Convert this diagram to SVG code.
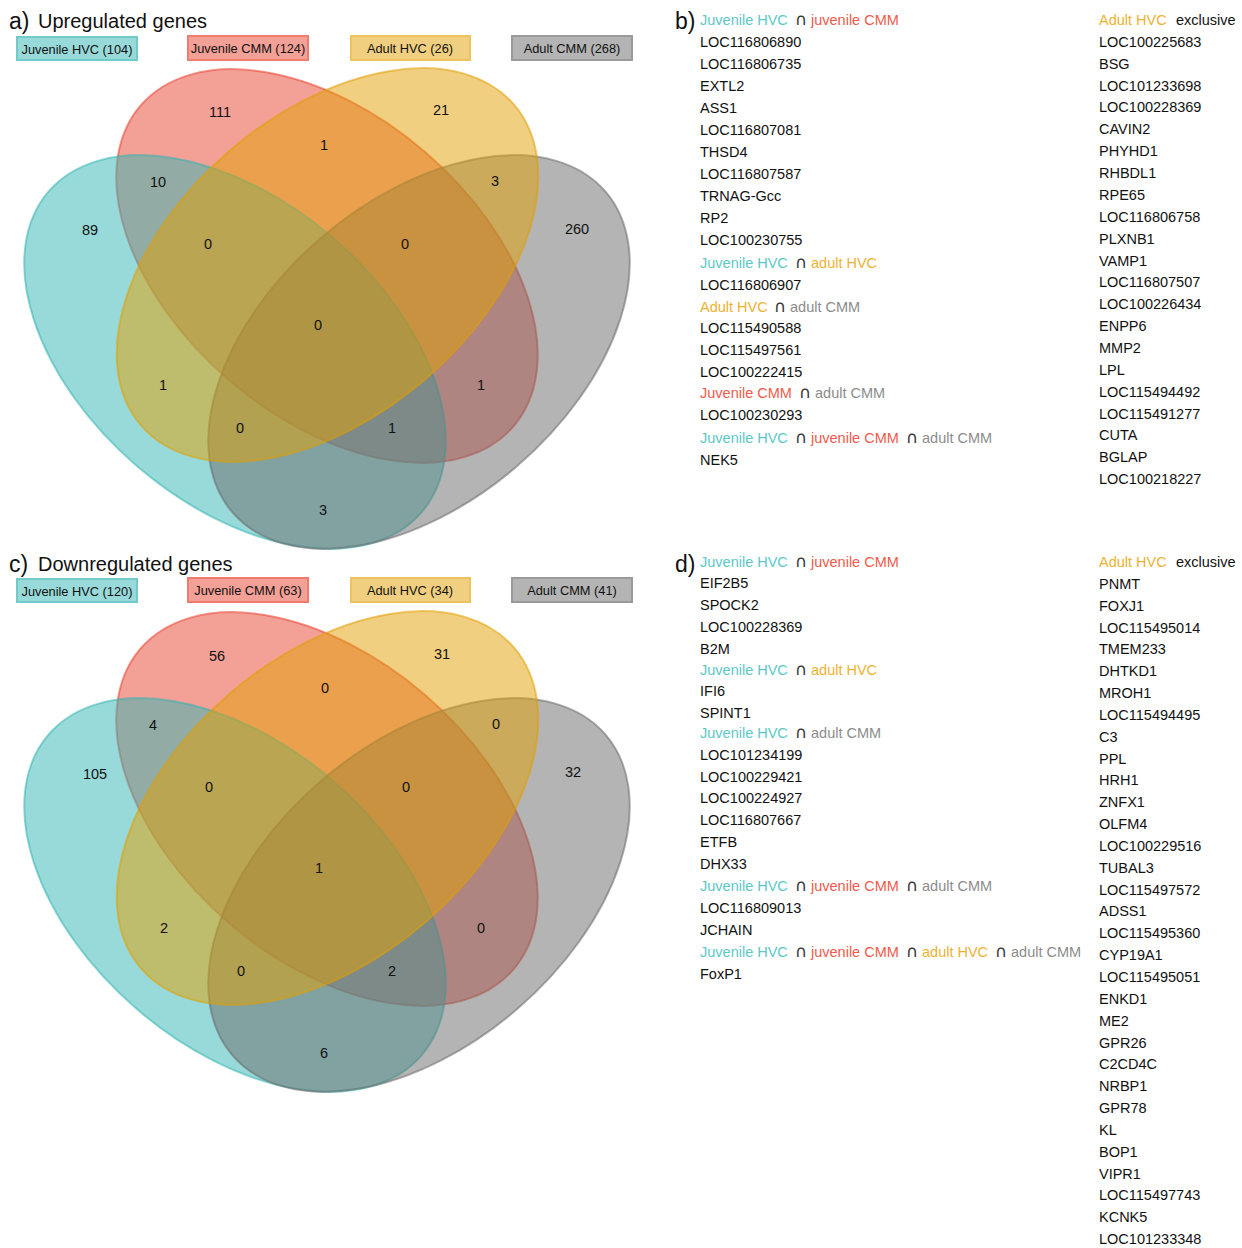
<svg xmlns="http://www.w3.org/2000/svg" width="1242" height="1248" viewBox="0 0 1242 1248">
<style>
text{font-family:"Liberation Sans",Arial,"DejaVu Sans",sans-serif;fill:#111}
.pl{font-size:23px}
.ttl{font-size:20px}
.lg{font-size:12.8px;text-anchor:middle}
.n{font-size:14.5px;text-anchor:middle}
.li{font-size:14.5px}
text.cap{fill:#333;font-family:"DejaVu Sans","Liberation Sans",sans-serif;font-size:16.5px}
.ct{fill:#5cc8c7}
.cr{fill:#f05a4b}
.cy{fill:#edb232}
.cg{fill:#8c8c8c}
.e{stroke-width:2;fill-opacity:.5;stroke-opacity:.55}
.teal{fill:#31b5b3;stroke:#31b5b3}
.red{fill:#e74130;stroke:#e74130}
.yel{fill:#e19f01;stroke:#e19f01}
.gry{fill:#696969;stroke:#696969}
.b{stroke-width:2}
.bt{fill:#98dad9;stroke:#72cbc9}
.br{fill:#f3a096;stroke:#f07b6d}
.by{fill:#f0cf80;stroke:#eec35e}
.bg{fill:#b4b4b4;stroke:#9a9a9a}
</style>

<!-- Panel a -->
<g id="panel-a-title">
<text class="pl" x="9" y="29">a)</text>
<text class="ttl" x="38" y="28">Upregulated genes</text>
</g>
<g id="legend-a">
<g id="legend-a-jhvc"><rect class="b bt" x="17" y="37" width="120" height="23"/><text class="lg" x="77" y="53.5">Juvenile HVC (104)</text></g>
<g id="legend-a-jcmm"><rect class="b br" x="188" y="36" width="120" height="24"/><text class="lg" x="248" y="53">Juvenile CMM (124)</text></g>
<g id="legend-a-ahvc"><rect class="b by" x="351" y="36" width="119" height="24"/><text class="lg" x="410" y="53">Adult HVC (26)</text></g>
<g id="legend-a-acmm"><rect class="b bg" x="512" y="36" width="120" height="24"/><text class="lg" x="572" y="53">Adult CMM (268)</text></g>
</g>
<g id="venn-a">
<g id="a-jcmm"><ellipse class="e red" rx="246" ry="150.5" transform="translate(327 266) rotate(40.7)"/></g>
<g id="a-jhvc"><ellipse class="e teal" rx="246" ry="150.5" transform="translate(235 352) rotate(40.7)"/></g>
<g id="a-acmm"><ellipse class="e gry" rx="246" ry="150.5" transform="translate(419 352) rotate(-40.7)"/></g>
<g id="a-ahvc"><ellipse class="e yel" rx="246" ry="150.5" transform="translate(327.5 265) rotate(-40.7)"/></g>
</g>
<g id="venn-a-counts">
<text class="n" x="220" y="117">111</text>
<text class="n" x="441" y="115">21</text>
<text class="n" x="324" y="150">1</text>
<text class="n" x="158" y="187">10</text>
<text class="n" x="495" y="186">3</text>
<text class="n" x="90" y="235">89</text>
<text class="n" x="577" y="234">260</text>
<text class="n" x="208" y="249">0</text>
<text class="n" x="405" y="249">0</text>
<text class="n" x="318" y="330">0</text>
<text class="n" x="163" y="390">1</text>
<text class="n" x="481" y="390">1</text>
<text class="n" x="240" y="433">0</text>
<text class="n" x="392" y="433">1</text>
<text class="n" x="323" y="515">3</text>
</g>

<!-- Panel c -->
<g id="panel-c-title">
<text class="pl" x="9" y="572">c)</text>
<text class="ttl" x="38" y="571">Downregulated genes</text>
</g>
<g id="legend-c">
<g id="legend-c-jhvc"><rect class="b bt" x="17" y="579" width="120" height="23"/><text class="lg" x="77" y="595.5">Juvenile HVC (120)</text></g>
<g id="legend-c-jcmm"><rect class="b br" x="188" y="578" width="120" height="24"/><text class="lg" x="248" y="595">Juvenile CMM (63)</text></g>
<g id="legend-c-ahvc"><rect class="b by" x="351" y="578" width="119" height="24"/><text class="lg" x="410" y="595">Adult HVC (34)</text></g>
<g id="legend-c-acmm"><rect class="b bg" x="512" y="578" width="120" height="24"/><text class="lg" x="572" y="595">Adult CMM (41)</text></g>
</g>
<g id="venn-c">
<g id="c-jcmm"><ellipse class="e red" rx="246" ry="150.5" transform="translate(327 809) rotate(40.7)"/></g>
<g id="c-jhvc"><ellipse class="e teal" rx="246" ry="150.5" transform="translate(235 895) rotate(40.7)"/></g>
<g id="c-acmm"><ellipse class="e gry" rx="246" ry="150.5" transform="translate(419 895) rotate(-40.7)"/></g>
<g id="c-ahvc"><ellipse class="e yel" rx="246" ry="150.5" transform="translate(327.5 808) rotate(-40.7)"/></g>
</g>
<g id="venn-c-counts">
<text class="n" x="217" y="661">56</text>
<text class="n" x="442" y="659">31</text>
<text class="n" x="325" y="693">0</text>
<text class="n" x="153" y="730">4</text>
<text class="n" x="496" y="729">0</text>
<text class="n" x="95" y="779">105</text>
<text class="n" x="573" y="777">32</text>
<text class="n" x="209" y="792">0</text>
<text class="n" x="406" y="792">0</text>
<text class="n" x="319" y="873">1</text>
<text class="n" x="164" y="933">2</text>
<text class="n" x="481" y="933">0</text>
<text class="n" x="241" y="976">0</text>
<text class="n" x="392" y="976">2</text>
<text class="n" x="324" y="1058">6</text>
</g>

<!-- Panel b -->
<g id="panel-b">
<text class="pl" x="675" y="29">b)</text>
<g id="b-left">
<text class="li ct" x="700" y="25">Juvenile HVC</text><text class="li cap" x="795" y="25">∩</text><text class="li cr" x="811" y="25">juvenile CMM</text>
<text class="li" x="700" y="47">LOC116806890</text>
<text class="li" x="700" y="69">LOC116806735</text>
<text class="li" x="700" y="91">EXTL2</text>
<text class="li" x="700" y="113">ASS1</text>
<text class="li" x="700" y="135">LOC116807081</text>
<text class="li" x="700" y="157">THSD4</text>
<text class="li" x="700" y="179">LOC116807587</text>
<text class="li" x="700" y="201">TRNAG-Gcc</text>
<text class="li" x="700" y="223">RP2</text>
<text class="li" x="700" y="245">LOC100230755</text>
<text class="li ct" x="700" y="268">Juvenile HVC</text><text class="li cap" x="795" y="268">∩</text><text class="li cy" x="811" y="268">adult HVC</text>
<text class="li" x="700" y="290">LOC116806907</text>
<text class="li cy" x="700" y="312">Adult HVC</text><text class="li cap" x="774" y="312">∩</text><text class="li cg" x="790" y="312">adult CMM</text>
<text class="li" x="700" y="333">LOC115490588</text>
<text class="li" x="700" y="355">LOC115497561</text>
<text class="li" x="700" y="377">LOC100222415</text>
<text class="li cr" x="700" y="398">Juvenile CMM</text><text class="li cap" x="799" y="398">∩</text><text class="li cg" x="815" y="398">adult CMM</text>
<text class="li" x="700" y="420">LOC100230293</text>
<text class="li ct" x="700" y="443">Juvenile HVC</text><text class="li cap" x="795" y="443">∩</text><text class="li cr" x="811" y="443">juvenile CMM</text><text class="li cap" x="906" y="443">∩</text><text class="li cg" x="922" y="443">adult CMM</text>
<text class="li" x="700" y="465">NEK5</text>
</g>
<g id="b-right">
<text class="li cy" x="1099" y="25">Adult HVC</text><text class="li" x="1176" y="25">exclusive</text>
<text class="li" x="1099" y="46.9">LOC100225683</text>
<text class="li" x="1099" y="68.7">BSG</text>
<text class="li" x="1099" y="90.6">LOC101233698</text>
<text class="li" x="1099" y="112.4">LOC100228369</text>
<text class="li" x="1099" y="134.3">CAVIN2</text>
<text class="li" x="1099" y="156.2">PHYHD1</text>
<text class="li" x="1099" y="178">RHBDL1</text>
<text class="li" x="1099" y="199.9">RPE65</text>
<text class="li" x="1099" y="221.7">LOC116806758</text>
<text class="li" x="1099" y="243.6">PLXNB1</text>
<text class="li" x="1099" y="265.5">VAMP1</text>
<text class="li" x="1099" y="287.3">LOC116807507</text>
<text class="li" x="1099" y="309.2">LOC100226434</text>
<text class="li" x="1099" y="331">ENPP6</text>
<text class="li" x="1099" y="352.9">MMP2</text>
<text class="li" x="1099" y="374.8">LPL</text>
<text class="li" x="1099" y="396.6">LOC115494492</text>
<text class="li" x="1099" y="418.5">LOC115491277</text>
<text class="li" x="1099" y="440.3">CUTA</text>
<text class="li" x="1099" y="462.2">BGLAP</text>
<text class="li" x="1099" y="484.1">LOC100218227</text>
</g>
</g>

<!-- Panel d -->
<g id="panel-d">
<text class="pl" x="675" y="572">d)</text>
<g id="d-left">
<text class="li ct" x="700" y="567">Juvenile HVC</text><text class="li cap" x="795" y="567">∩</text><text class="li cr" x="811" y="567">juvenile CMM</text>
<text class="li" x="700" y="588">EIF2B5</text>
<text class="li" x="700" y="610">SPOCK2</text>
<text class="li" x="700" y="632">LOC100228369</text>
<text class="li" x="700" y="654">B2M</text>
<text class="li ct" x="700" y="675">Juvenile HVC</text><text class="li cap" x="795" y="675">∩</text><text class="li cy" x="811" y="675">adult HVC</text>
<text class="li" x="700" y="696">IFI6</text>
<text class="li" x="700" y="718">SPINT1</text>
<text class="li ct" x="700" y="738">Juvenile HVC</text><text class="li cap" x="795" y="738">∩</text><text class="li cg" x="811" y="738">adult CMM</text>
<text class="li" x="700" y="760">LOC101234199</text>
<text class="li" x="700" y="782">LOC100229421</text>
<text class="li" x="700" y="803">LOC100224927</text>
<text class="li" x="700" y="825">LOC116807667</text>
<text class="li" x="700" y="847">ETFB</text>
<text class="li" x="700" y="869">DHX33</text>
<text class="li ct" x="700" y="891">Juvenile HVC</text><text class="li cap" x="795" y="891">∩</text><text class="li cr" x="811" y="891">juvenile CMM</text><text class="li cap" x="906" y="891">∩</text><text class="li cg" x="922" y="891">adult CMM</text>
<text class="li" x="700" y="913">LOC116809013</text>
<text class="li" x="700" y="935">JCHAIN</text>
<text class="li ct" x="700" y="957">Juvenile HVC</text><text class="li cap" x="795" y="957">∩</text><text class="li cr" x="811" y="957">juvenile CMM</text><text class="li cap" x="906" y="957">∩</text><text class="li cy" x="922" y="957">adult HVC</text><text class="li cap" x="995" y="957">∩</text><text class="li cg" x="1011" y="957">adult CMM</text>
<text class="li" x="700" y="979">FoxP1</text>
</g>
<g id="d-right">
<text class="li cy" x="1099" y="567">Adult HVC</text><text class="li" x="1176" y="567">exclusive</text>
<text class="li" x="1099" y="588.8">PNMT</text>
<text class="li" x="1099" y="610.7">FOXJ1</text>
<text class="li" x="1099" y="632.5">LOC115495014</text>
<text class="li" x="1099" y="654.4">TMEM233</text>
<text class="li" x="1099" y="676.2">DHTKD1</text>
<text class="li" x="1099" y="698">MROH1</text>
<text class="li" x="1099" y="719.9">LOC115494495</text>
<text class="li" x="1099" y="741.7">C3</text>
<text class="li" x="1099" y="763.6">PPL</text>
<text class="li" x="1099" y="785.4">HRH1</text>
<text class="li" x="1099" y="807.2">ZNFX1</text>
<text class="li" x="1099" y="829.1">OLFM4</text>
<text class="li" x="1099" y="850.9">LOC100229516</text>
<text class="li" x="1099" y="872.8">TUBAL3</text>
<text class="li" x="1099" y="894.6">LOC115497572</text>
<text class="li" x="1099" y="916.4">ADSS1</text>
<text class="li" x="1099" y="938.3">LOC115495360</text>
<text class="li" x="1099" y="960.1">CYP19A1</text>
<text class="li" x="1099" y="982">LOC115495051</text>
<text class="li" x="1099" y="1003.8">ENKD1</text>
<text class="li" x="1099" y="1025.6">ME2</text>
<text class="li" x="1099" y="1047.5">GPR26</text>
<text class="li" x="1099" y="1069.3">C2CD4C</text>
<text class="li" x="1099" y="1091.2">NRBP1</text>
<text class="li" x="1099" y="1113">GPR78</text>
<text class="li" x="1099" y="1134.8">KL</text>
<text class="li" x="1099" y="1156.7">BOP1</text>
<text class="li" x="1099" y="1178.5">VIPR1</text>
<text class="li" x="1099" y="1200.4">LOC115497743</text>
<text class="li" x="1099" y="1222.2">KCNK5</text>
<text class="li" x="1099" y="1244">LOC101233348</text>
</g>
</g>
</svg>
